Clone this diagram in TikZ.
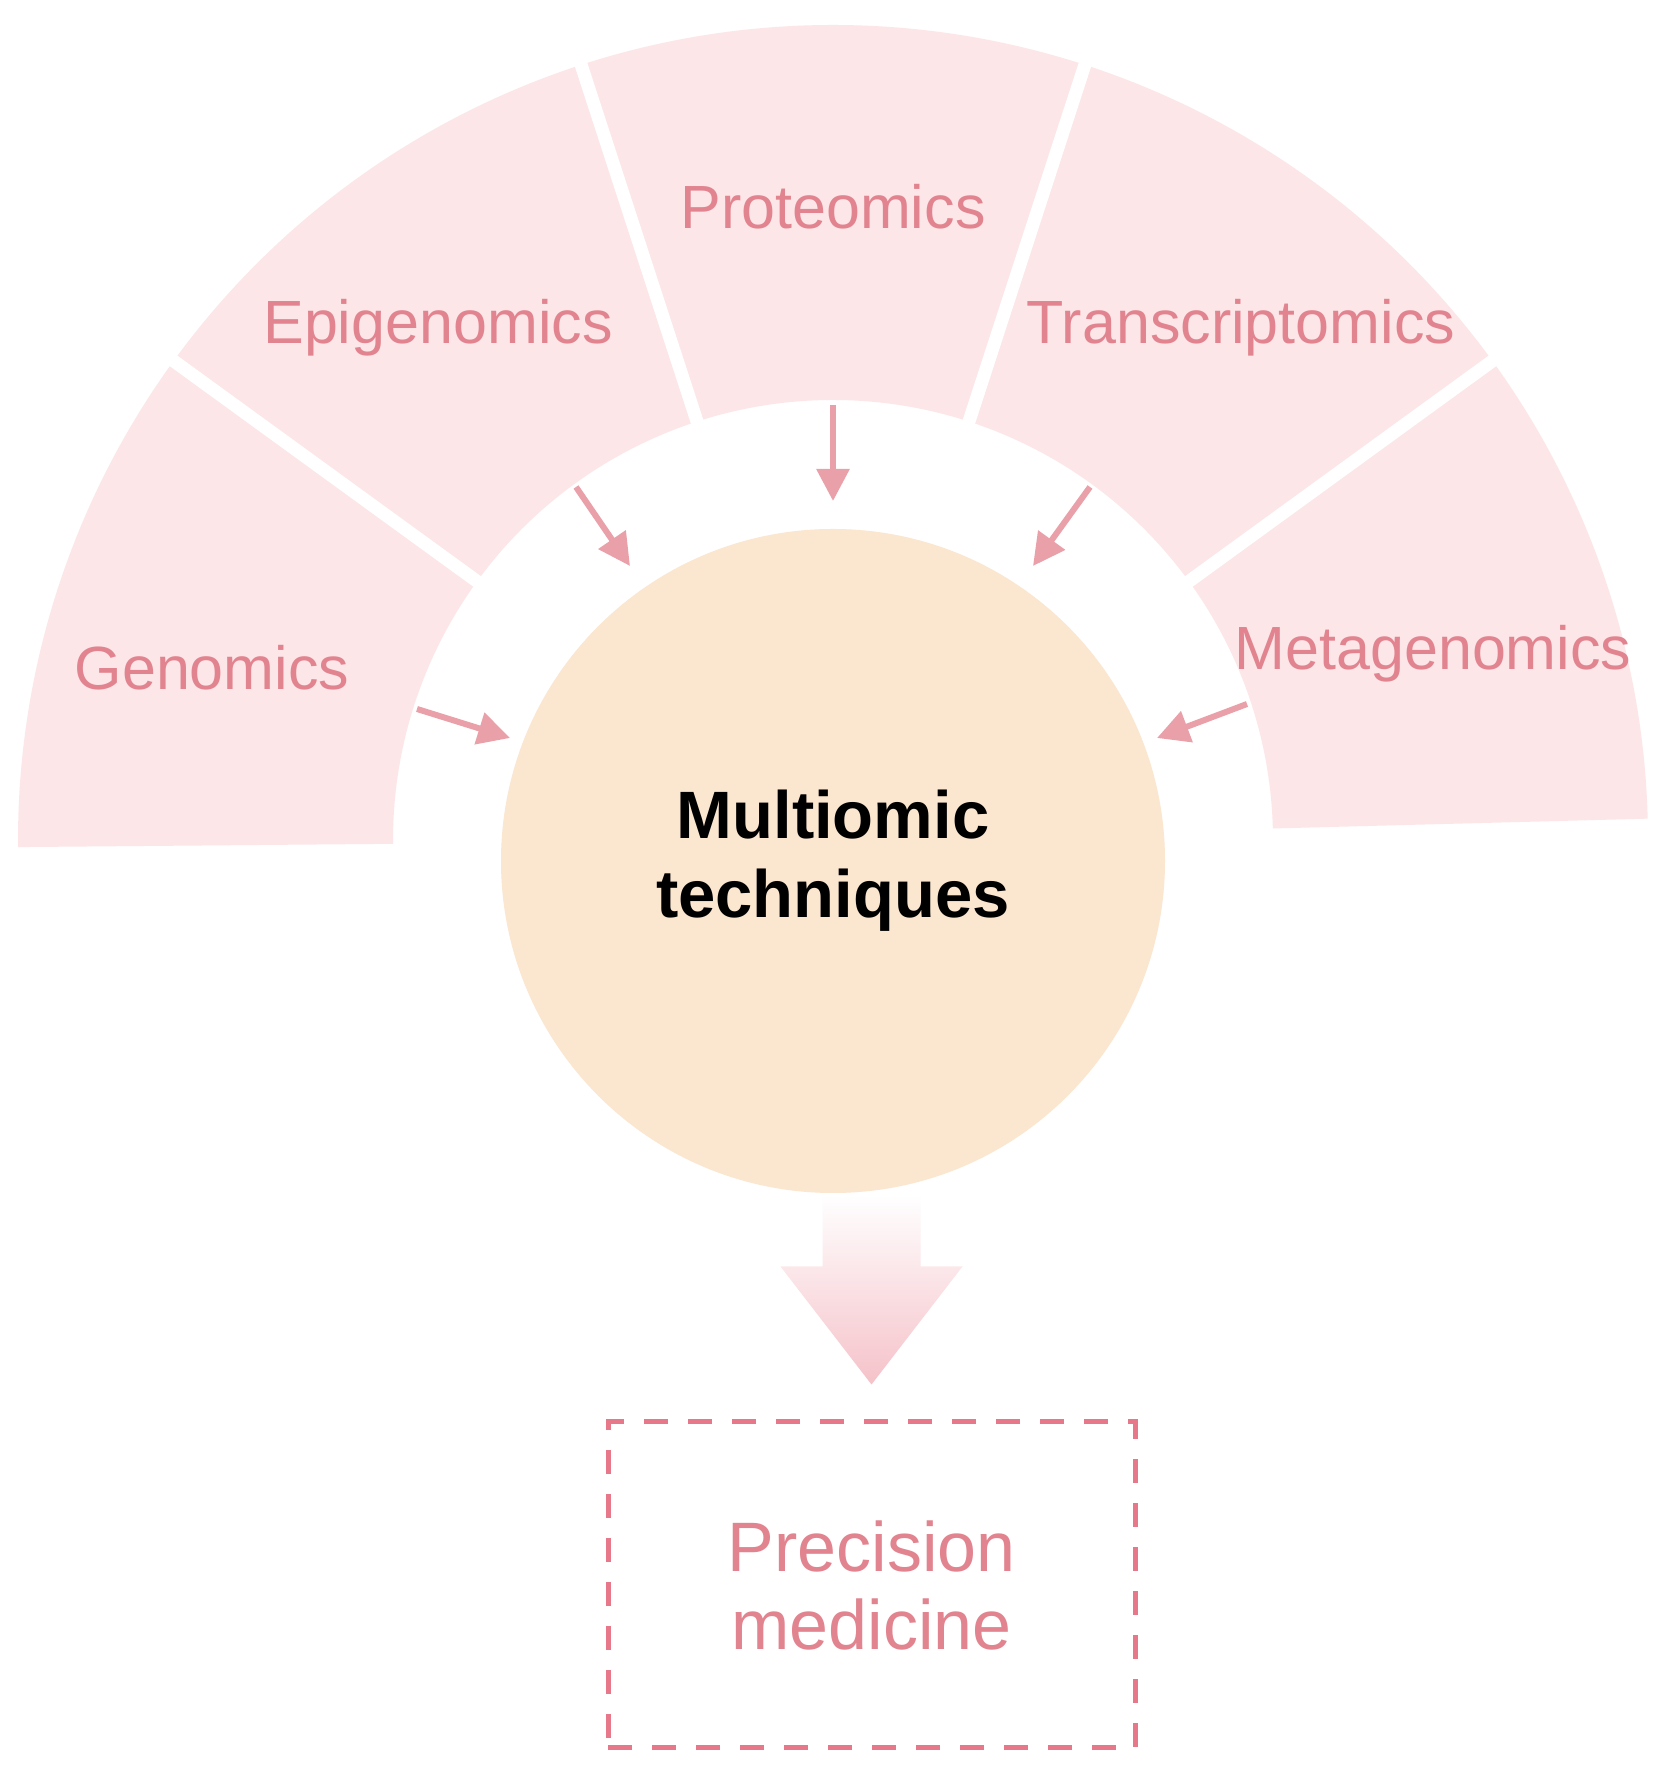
\documentclass[tikz,border=0pt]{standalone}
\usepackage{fontspec}
\setmainfont{Liberation Sans}
\usetikzlibrary{arrows.meta,calc}
\definecolor{segpink}{HTML}{FCE6E8}
\definecolor{labpink}{HTML}{E2848F}
\definecolor{arrpink}{HTML}{E9A0A9}
\definecolor{peach}{HTML}{FBE6CF}
\definecolor{boxpink}{HTML}{E6788A}
\definecolor{tippink}{HTML}{F5C2C9}
\begin{document}
\begin{tikzpicture}[x=1pt,y=1pt,
  seg/.style={fill=segpink},
  gapline/.style={draw=white,line width=13pt},
  lab/.style={text=labpink,font=\fontsize{61}{73}\selectfont,anchor=base,inner sep=0pt},
  arr/.style={draw=arrpink,line width=6pt,-{Triangle[length=32pt,width=32pt]}},
  bigarrow/.style={top color=white,bottom color=tippink},
]
\fill[white] (0,0) rectangle (1675,1765);
\useasboundingbox (0,0) rectangle (1675,1765);
\coordinate (C) at (833,925);
% ring segments
\foreach \a/\b in {144/180.5,108/144,72/108,36/72,1.5/36}{
  \fill[seg] ($(C)+(\a:815)$) arc[start angle=\a,end angle=\b,radius=815]
    -- ($(C)+(\b:440)$) arc[start angle=\b,end angle=\a,radius=440] -- cycle;
}
\foreach \a in {36,72,108,144}{
  \draw[gapline] ($(C)+(\a:430)$) -- ($(C)+(\a:830)$);
}
% labels
\node[lab] (gen) at (212,1075) {Genomics};
\node[lab] (epi) at (438,1421) {Epigenomics};
\node[lab] (pro) at (833,1536) {Proteomics};
\node[lab] (tra) at (1241,1421) {Transcriptomics};
\node[lab] (met) at (1433,1095) {Metagenomics};
% central circle
\node[circle,fill=peach,minimum size=664pt,inner sep=0pt,align=center,
      font=\bfseries\fontsize{67}{79}\selectfont] (mc) at (833,904) {Multiomic\\techniques};
% precision medicine box
\node[draw=boxpink,line width=5pt,dash pattern=on 24pt off 20pt,
      minimum width=527pt,minimum height=326pt,align=center,text=labpink,
      font=\fontsize{70}{78}\selectfont] (pm) at (871.5,180) {Precision\\medicine};
% big arrow
\shade[bigarrow] ($(pm.north)+(-49,225)$) -- ($(pm.north)+(49,225)$)
  -- ($(pm.north)+(49,153)$) -- ($(pm.north)+(91,153)$)
  -- ($(pm.north)+(0,35)$) -- ($(pm.north)+(-91,153)$)
  -- ($(pm.north)+(-49,153)$) -- cycle;
% small arrows
\coordinate (gA) at (417,1056); \coordinate (gB) at (510,1027);
\coordinate (eA) at (576,1278); \coordinate (eB) at (630,1199);
\coordinate (pA) at (833,1360); \coordinate (pB) at (833,1264);
\coordinate (tA) at (1090,1278); \coordinate (tB) at (1033,1199);
\coordinate (mA) at (1247,1061); \coordinate (mB) at (1157,1027);
\draw[arr] (gA) -- (gB);
\draw[arr] (eA) -- (eB);
\draw[arr] (pA) -- (pB);
\draw[arr] (tA) -- (tB);
\draw[arr] (mA) -- (mB);
\end{tikzpicture}
\end{document}
